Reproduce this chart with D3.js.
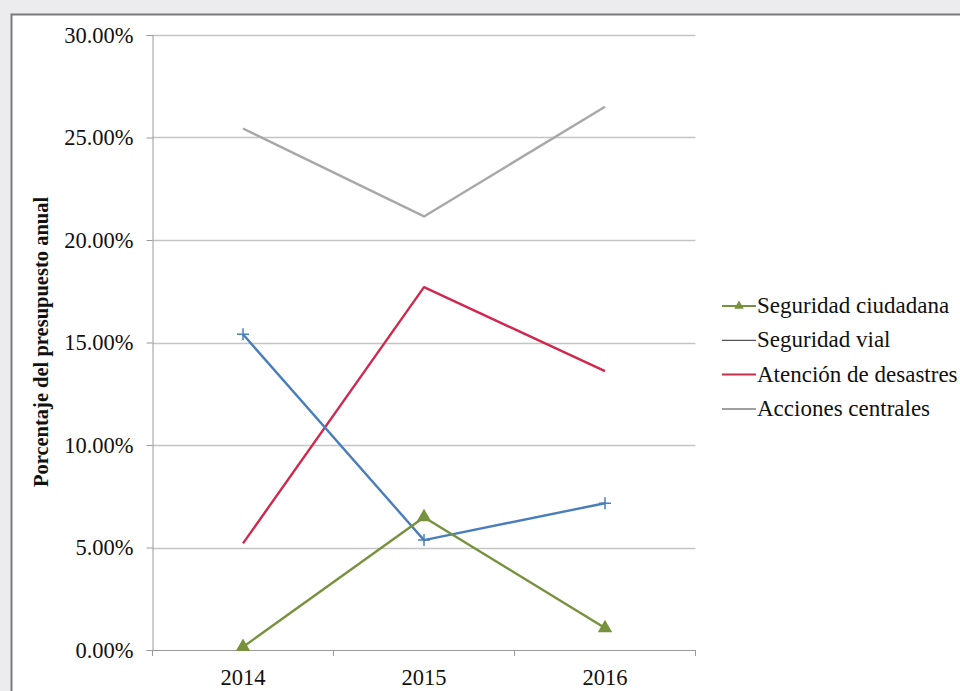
<!DOCTYPE html>
<html>
<head>
<meta charset="utf-8">
<script src="https://cdn.jsdelivr.net/npm/d3@7"></script>
<style>
  html, body { margin: 0; padding: 0; background: #ececee; }
  svg { display: block; }
</style>
</head>
<body>
<svg id="chart" width="960" height="691"></svg>
<script>
// Years on the category axis
const years = ["2014", "2015", "2016"];

// Share of the annual budget (%) per programme
const seguridadCiudadana = [0.15, 6.48, 1.07];
const seguridadVial = [15.4, 5.36, 7.16];
const atencionDesastres = [5.2, 17.7, 13.6];
const accionesCentrales = [25.44, 21.15, 26.5];

// Value axis ticks
const yTicks = [0, 5, 10, 15, 20, 25, 30];

const seriesNames = ["Seguridad ciudadana", "Seguridad vial", "Atención de desastres", "Acciones centrales"];

const FONT = "'Liberation Serif', 'Times New Roman', 'DejaVu Serif', serif";

const series = [
  { name: seriesNames[0], values: seguridadCiudadana, color: "#76923c", legendColor: "#76923c", marker: "triangle" },
  { name: seriesNames[1], values: seguridadVial, color: "#4a7ebb", legendColor: "#555555", marker: "plus" },
  { name: seriesNames[2], values: atencionDesastres, color: "#d0284f", legendColor: "#c0304f", marker: null },
  { name: seriesNames[3], values: accionesCentrales, color: "#a8a8a8", legendColor: "#a0a0a0", marker: null }
];

const svg = d3.select("#chart");

// Chart frame (white panel with a grey edge on top and left)
svg.append("rect").attr("x", 11).attr("y", 14).attr("width", 949).attr("height", 677).attr("fill", "#ffffff");
svg.append("path").attr("d", "M11.5,691 V14.5 H960").attr("fill", "none").attr("stroke", "#7a7a7a").attr("stroke-width", 2);

const plot = { left: 152.5, right: 695.5, top: 35, bottom: 650 };

const x = d3.scaleBand().domain(years).range([plot.left, plot.right]);
const y = d3.scaleLinear().domain([0, 30]).range([plot.bottom, plot.top]);

function styleText(sel, size, weight) {
  sel.style("font-family", FONT).style("font-size", size + "px")
     .style("font-weight", weight || "normal").style("fill", "#111");
}

// Horizontal gridlines
svg.append("g").selectAll("line").data(yTicks.filter(t => t > 0)).join("line")
  .attr("x1", plot.left).attr("x2", plot.right)
  .attr("y1", d => Math.round(y(d)) + 0.5).attr("y2", d => Math.round(y(d)) + 0.5)
  .attr("stroke", "#c4c4c4").attr("stroke-width", 1.3);

// Value axis
const yAxis = svg.append("g").attr("transform", `translate(${plot.left},0)`)
  .call(d3.axisLeft(y).tickValues(yTicks).tickSize(6).tickPadding(13).tickFormat(d => d.toFixed(2) + "%"));
yAxis.select(".domain").attr("stroke", "#9a9a9a");
yAxis.selectAll(".tick line").attr("stroke", "#9a9a9a");
styleText(yAxis.selectAll("text"), 22.5);

// Category axis with ticks between categories
const xAxisG = svg.append("g").attr("transform", `translate(0,${plot.bottom})`);
xAxisG.append("line").attr("x1", plot.left).attr("x2", plot.right).attr("y1", 0.5).attr("y2", 0.5).attr("stroke", "#9a9a9a");
const bounds = [plot.left, ...years.slice(1).map(d => x(d)), plot.right];
xAxisG.selectAll("line.tk").data(bounds).join("line").attr("class", "tk")
  .attr("x1", d => d).attr("x2", d => d).attr("y1", 0).attr("y2", 6).attr("stroke", "#9a9a9a");
const xl = xAxisG.selectAll("text").data(years).join("text")
  .attr("x", d => x(d) + x.bandwidth() / 2).attr("y", 35)
  .attr("text-anchor", "middle").text(d => d);
styleText(xl, 22.5);

// Axis title
const title = svg.append("text")
  .attr("transform", `translate(48,342) rotate(-90)`)
  .attr("text-anchor", "middle")
  .text("Porcentaje del presupuesto anual");
styleText(title, 20.5, "bold");

const cx = d => x(d) + x.bandwidth() / 2;
const line = d3.line().x(d => cx(d.year)).y(d => y(d.value));

const drawOrder = [series[3], series[2], series[1], series[0]];
drawOrder.forEach(s => {
  const pts = years.map((yr, i) => ({ year: yr, value: s.values[i] }));
  svg.append("path").datum(pts).attr("d", line)
    .attr("fill", "none").attr("stroke", s.color).attr("stroke-width", 2.4)
    .attr("stroke-linejoin", "round");
  if (s.marker === "triangle") {
    svg.append("g").selectAll("path").data(pts).join("path")
      .attr("transform", d => `translate(${cx(d.year)},${y(d.value)})`)
      .attr("d", d3.symbol(d3.symbolTriangle, 90)).attr("fill", s.color);
  } else if (s.marker === "plus") {
    svg.append("g").selectAll("path").data(pts).join("path")
      .attr("transform", d => `translate(${cx(d.year)},${y(d.value)})`)
      .attr("d", "M-6,0H6M0,-6V6").attr("stroke", s.color).attr("stroke-width", 1.5).attr("fill", "none");
  }
});

// Legend
const legend = svg.append("g").attr("transform", "translate(722,306)");
series.forEach((s, i) => {
  const g = legend.append("g").attr("transform", `translate(0,${i * 34.3})`);
  g.append("line").attr("x1", 0).attr("x2", 34).attr("y1", 0).attr("y2", 0)
    .attr("stroke", s.legendColor).attr("stroke-width", s.marker === "plus" ? 1.3 : 2);
  if (s.marker === "triangle") {
    g.append("path").attr("transform", "translate(17,0)").attr("d", d3.symbol(d3.symbolTriangle, 40)).attr("fill", s.color);
  }
  const t = g.append("text").attr("x", 35).attr("y", 7).text(s.name);
  styleText(t, 23);
});
</script>
</body>
</html>
